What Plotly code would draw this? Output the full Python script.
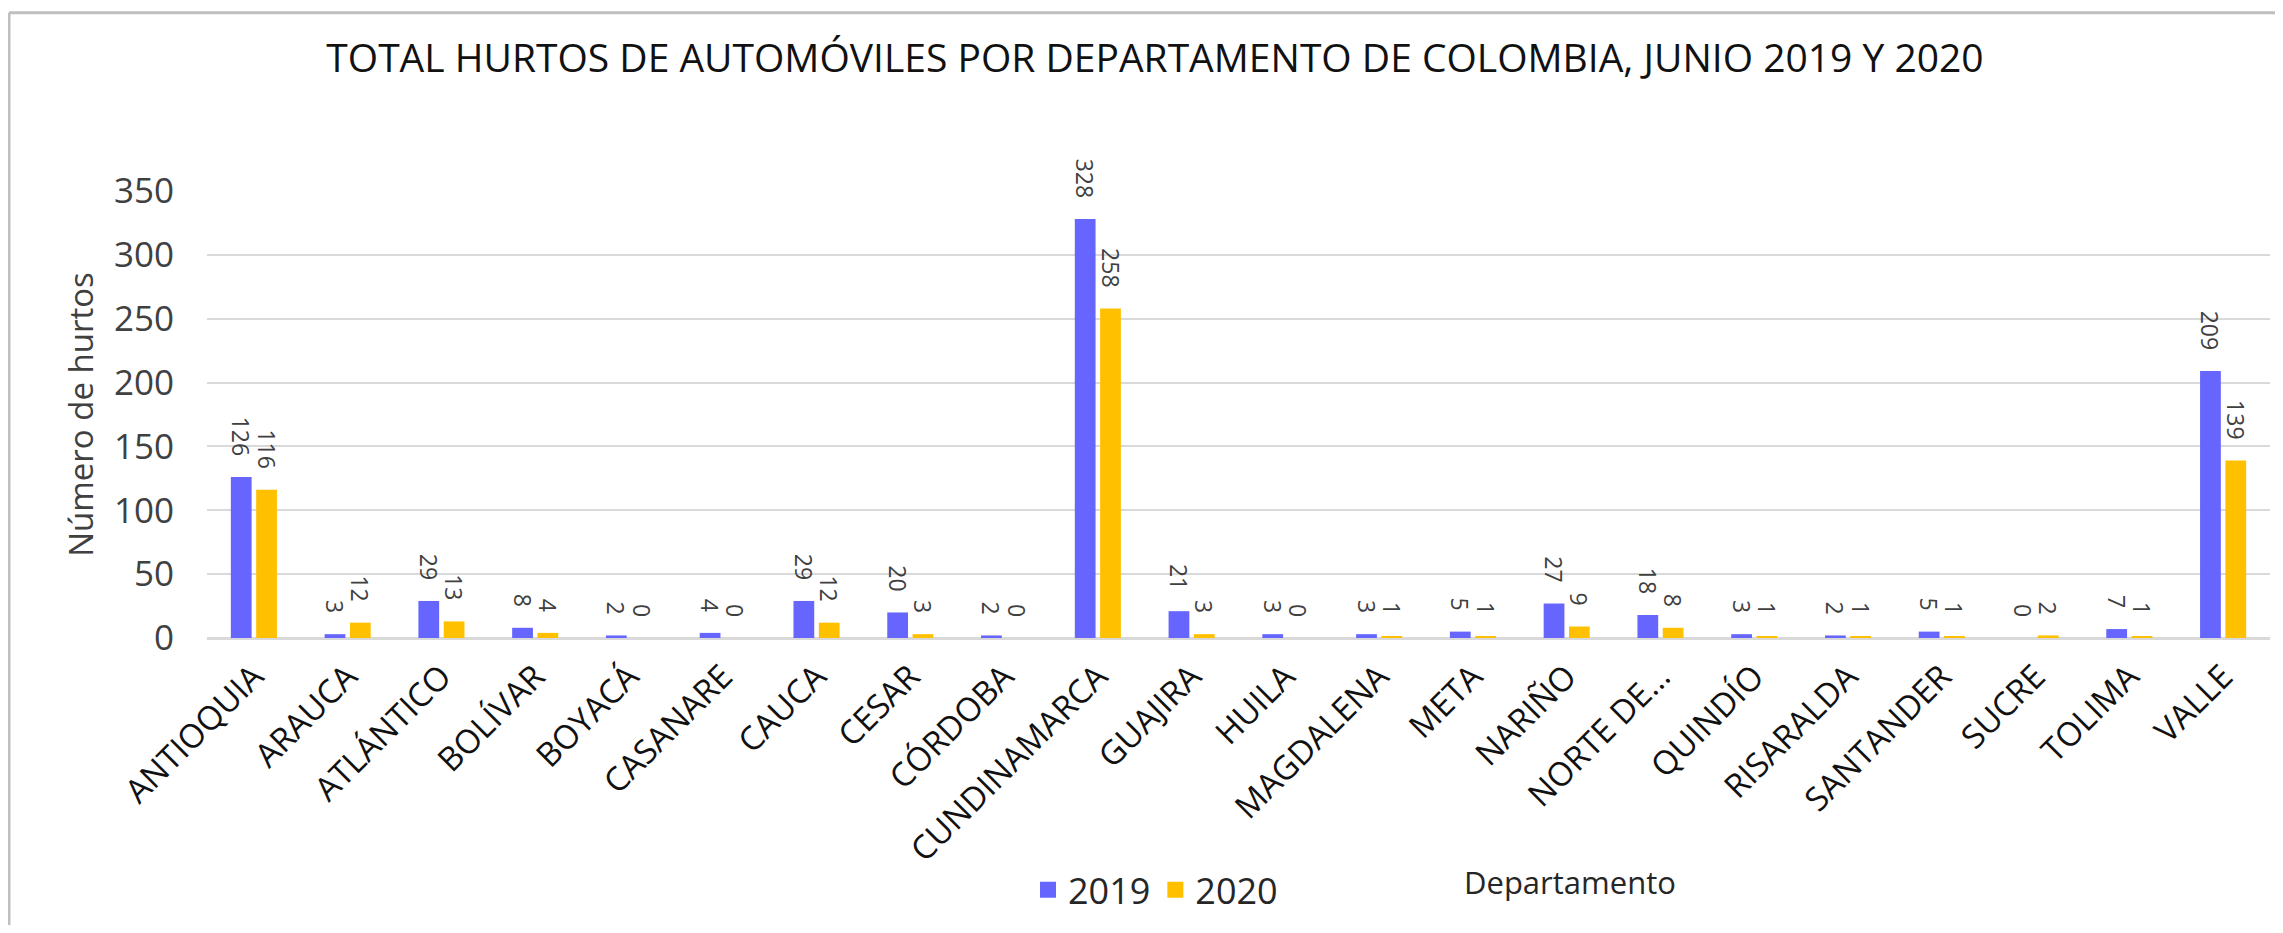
import plotly.graph_objects as go

departamentos = ["ANTIOQUIA", "ARAUCA", "ATLÁNTICO", "BOLÍVAR", "BOYACÁ", "CASANARE", "CAUCA",
                 "CESAR", "CÓRDOBA", "CUNDINAMARCA", "GUAJIRA", "HUILA", "MAGDALENA", "META",
                 "NARIÑO", "NORTE DE…", "QUINDÍO", "RISARALDA", "SANTANDER", "SUCRE", "TOLIMA", "VALLE"]
hurtos_2019 = [126, 3, 29, 8, 2, 4, 29, 20, 2, 328, 21, 3, 3, 5, 27, 18, 3, 2, 5, 0, 7, 209]
hurtos_2020 = [116, 12, 13, 4, 0, 0, 12, 3, 0, 258, 3, 0, 1, 1, 9, 8, 1, 1, 1, 2, 1, 139]
y_ticks = [0, 50, 100, 150, 200, 250, 300, 350]

FONT = "Open Sans"
OFF = 8  # page body margin
W, H = 2283 - 2 * OFF, 933 - 2 * OFF
PL, PR, PT, PB = 207, 2270, 191, 640  # plot area in page coordinates
L, T = PL - OFF, PT - OFF
R = W - (PR - OFF)
B = H - (PB - OFF)

def px_x(x):
    return (x - PL) / (PR - PL)

def px_y(y):
    return (PB - y) / (PB - PT)

colors = {"2019": "#6666FF", "2020": "#FFC000"}

fig = go.Figure()
for name, vals in [("2019", hurtos_2019), ("2020", hurtos_2020)]:
    fig.add_trace(go.Bar(
        x=departamentos, y=vals, name=name, marker_color=colors[name], marker_line_width=0,
        text=vals, texttemplate="%{y}\u00a0\u00a0\u00a0", textposition="outside", textangle=90,
        constraintext="none", showlegend=False,
        textfont=dict(family=FONT, size=23, color="#404040"), cliponaxis=False,
    ))
for name in ["2019", "2020"]:
    fig.add_trace(go.Scatter(
        x=[None], y=[None], mode="markers", name=name,
        marker=dict(symbol="square", size=20, color=colors[name]),
    ))

fig.update_layout(
    width=W, height=H,
    margin=dict(l=L, r=R, t=T, b=B),
    paper_bgcolor="white", plot_bgcolor="white",
    barmode="group", bargap=0.46, bargroupgap=0.18,
    title=dict(text="TOTAL HURTOS DE AUTOMÓVILES POR DEPARTAMENTO DE COLOMBIA, JUNIO 2019 Y 2020",
               x=(1155 - OFF) / W, xref="container", xanchor="center",
               y=1 - (58 - OFF) / H, yref="container", yanchor="middle",
               font=dict(family=FONT, size=39, color="#111111")),
    font=dict(family=FONT, color="#404040"),
    legend=dict(orientation="h", x=px_x(1028), y=px_y(893), xanchor="left", yanchor="middle",
                font=dict(family=FONT, size=36, color="#262626"), itemwidth=30,
                bgcolor="rgba(0,0,0,0)", tracegroupgap=0),
    showlegend=True,
)
fig.update_xaxes(
    tickangle=-45, tickfont=dict(family=FONT, size=33, color="#111111"),
    showgrid=False, showline=True, linecolor="#D9D9D9", linewidth=2,
    ticks="", ticklabelstandoff=4, automargin=False,
)
fig.update_yaxes(
    range=[0, 350], tickvals=y_ticks, tickfont=dict(family=FONT, size=35, color="#404040"),
    showgrid=True, gridcolor="#D9D9D9", gridwidth=2, zeroline=True, zerolinecolor="#D9D9D9",
    zerolinewidth=2, showline=False, ticks="", ticklabelstandoff=32, automargin=False,
    title=dict(text="Número de hurtos", font=dict(family=FONT, size=33, color="#404040"), standoff=10),
)
fig.add_annotation(text="Departamento", x=px_x(1570), y=px_y(885), xref="paper", yref="paper",
                   showarrow=False, xanchor="center", yanchor="middle",
                   font=dict(family=FONT, size=31, color="#262626"))
# chart frame (top and left edges visible in the reference)
fig.add_shape(type="line", xref="paper", yref="paper",
              x0=px_x(9), x1=px_x(2400), y0=px_y(12), y1=px_y(12),
              line=dict(color="#BFBFBF", width=3))
fig.add_shape(type="line", xref="paper", yref="paper",
              x0=px_x(9), x1=px_x(9), y0=px_y(12), y1=px_y(1000),
              line=dict(color="#BFBFBF", width=3))

fig.write_html("out.html")
